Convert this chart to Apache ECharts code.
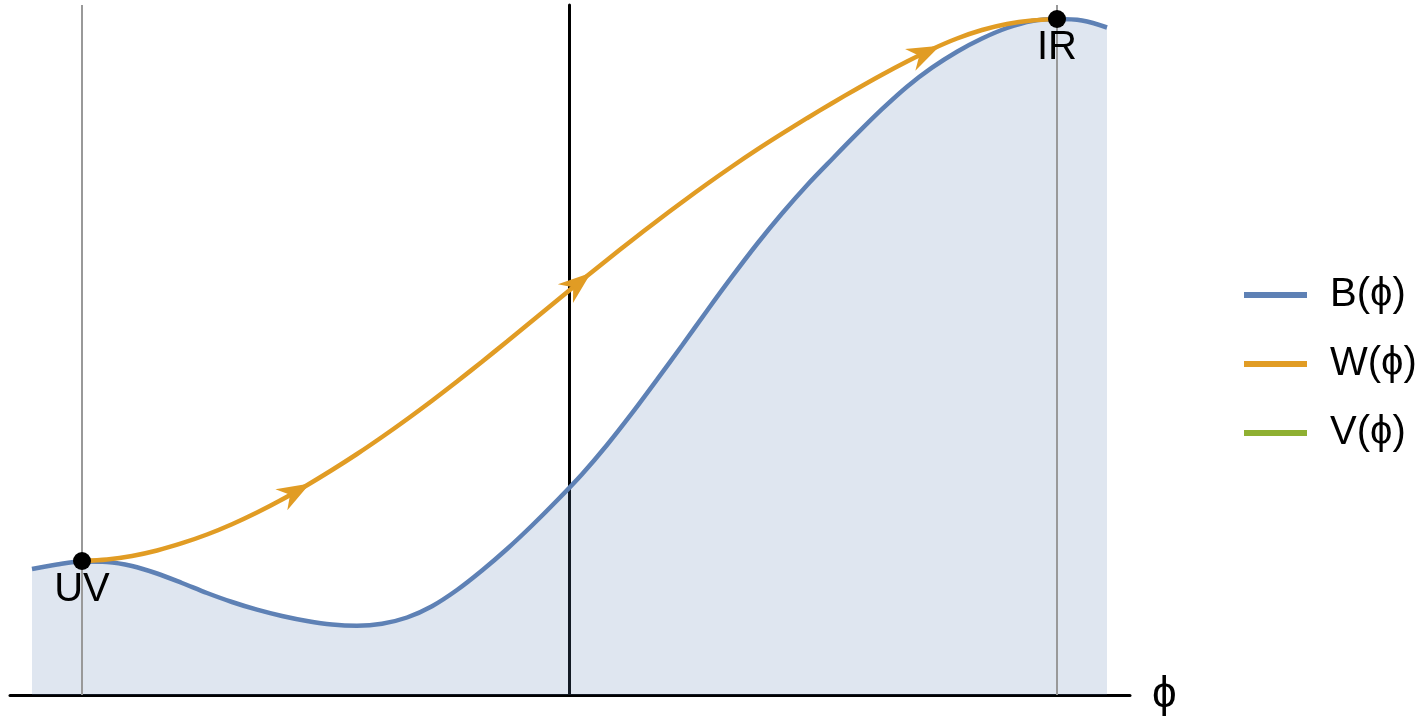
<!DOCTYPE html>
<html>
<head>
<meta charset="utf-8">
<title>B, W and V potentials</title>
<script src="https://cdn.jsdelivr.net/npm/echarts@6/dist/echarts.min.js"></script>
<style>
  html, body { margin: 0; padding: 0; background: #ffffff; }
  #chart { width: 1422px; height: 727px; }
</style>
</head>
<body>
<div id="chart"></div>
<script>
// B(phi): sampled along the phi axis
const phiB = [-5.37, -5.12, -4.87, -4.62, -4.37, -4.12, -3.87, -3.62, -3.37, -3.12, -2.87, -2.62, -2.37, -2.12, -1.87, -1.62, -1.37, -1.12, -0.87, -0.62, -0.37, -0.12, 0.13, 0.38, 0.63, 0.88, 1.13, 1.38, 1.63, 1.88, 2.13, 2.38, 2.63, 2.88, 3.13, 3.38, 3.63, 3.88, 4.13, 4.38, 4.63, 4.88, 5.13, 5.38];
const valB = [1.26, 1.305, 1.335, 1.33, 1.29, 1.215, 1.12, 1.02, 0.93, 0.853, 0.79, 0.74, 0.705, 0.693, 0.713, 0.775, 0.888, 1.05, 1.245, 1.46, 1.695, 1.945, 2.208, 2.50, 2.818, 3.153, 3.495, 3.843, 4.183, 4.51, 4.815, 5.098, 5.358, 5.613, 5.858, 6.083, 6.273, 6.433, 6.565, 6.67, 6.74, 6.76, 6.745, 6.675];

// W(phi): the flow from UV to IR
const phiW = [-4.87, -4.62, -4.37, -4.12, -3.87, -3.62, -3.37, -3.12, -2.87, -2.62, -2.37, -2.12, -1.87, -1.62, -1.37, -1.12, -0.87, -0.62, -0.37, -0.12, 0.13, 0.38, 0.63, 0.88, 1.13, 1.38, 1.63, 1.88, 2.13, 2.38, 2.63, 2.88, 3.13, 3.38, 3.63, 3.88, 4.13, 4.38, 4.63, 4.88];
const valW = [1.34, 1.355, 1.39, 1.445, 1.518, 1.605, 1.708, 1.825, 1.955, 2.098, 2.25, 2.41, 2.58, 2.758, 2.943, 3.135, 3.333, 3.535, 3.74, 3.945, 4.15, 4.35, 4.548, 4.74, 4.928, 5.11, 5.285, 5.453, 5.613, 5.768, 5.918, 6.063, 6.203, 6.335, 6.458, 6.565, 6.65, 6.71, 6.745, 6.76];

// Fixed points of the flow
const fixedPoints = [
  { name: 'UV', phi: -4.87, value: 1.34 },
  { name: 'IR', phi: 4.88, value: 6.76 }
];

// Where the flow arrowheads sit along W (tip positions)
const arrowPhi = [-2.59, 0.22, 3.71];

const legendNames = ['B(\u03D5)', 'W(\u03D5)', 'V(\u03D5)'];
const colors = { B: '#5E81B5', W: '#E19C24', V: '#8FB032' };

// Point on the sampled W curve for a given phi
function wAt(phi) {
  for (let i = 0; i < phiW.length - 1; i++) {
    if (phi >= phiW[i] && phi <= phiW[i + 1]) {
      const t = (phi - phiW[i]) / (phiW[i + 1] - phiW[i]);
      return valW[i] + t * (valW[i + 1] - valW[i]);
    }
  }
  return valW[valW.length - 1];
}

const arrowData = arrowPhi.map(p => [p, wAt(p), p - 0.3, wAt(p - 0.3)]);

const font = '"Liberation Sans", Arial, sans-serif';

const chart = echarts.init(document.getElementById('chart'));
chart.setOption({
  animation: false,
  backgroundColor: '#ffffff',
  grid: { left: 10, right: 292, top: 5, bottom: 32, containLabel: false },
  xAxis: {
    type: 'value',
    min: -5.59,
    max: 5.61,
    name: '\u03D5',
    nameLocation: 'end',
    nameGap: 22,
    nameTextStyle: { fontSize: 44, color: '#000', fontFamily: font, padding: [10, 0, 0, 0] },
    axisLine: { show: true, onZero: true, lineStyle: { color: '#000', width: 3 } },
    axisTick: { show: false },
    axisLabel: { show: false },
    splitLine: { show: false }
  },
  yAxis: {
    type: 'value',
    min: 0,
    max: 6.9,
    axisLine: { show: true, onZero: true, lineStyle: { color: '#000', width: 3 } },
    axisTick: { show: false },
    axisLabel: { show: false },
    splitLine: { show: false }
  },
  legend: {
    data: legendNames,
    orient: 'vertical',
    left: 1239,
    top: 270,
    icon: 'rect',
    itemWidth: 63,
    itemHeight: 6,
    itemGap: 29,
    textStyle: { fontSize: 40, color: '#000', fontFamily: font, lineHeight: 40, padding: [0, 0, 0, 18] }
  },
  series: [
    {
      name: legendNames[0],
      type: 'line',
      data: phiB.map((p, i) => [p, valB[i]]),
      smooth: 0.3,
      symbol: 'none',
      color: colors.B,
      lineStyle: { color: colors.B, width: 4.5 },
      itemStyle: { color: colors.B },
      areaStyle: { color: colors.B, opacity: 0.2, origin: 'start' },
      z: 2,
      markLine: {
        silent: true,
        symbol: ['none', 'none'],
        label: { show: false },
        lineStyle: { color: '#999999', width: 2, type: 'solid' },
        data: fixedPoints.map(f => ({ xAxis: f.phi }))
      }
    },
    {
      name: legendNames[1],
      type: 'line',
      data: phiW.map((p, i) => [p, valW[i]]),
      smooth: 0.3,
      symbol: 'none',
      color: colors.W,
      lineStyle: { color: colors.W, width: 4.5 },
      itemStyle: { color: colors.W },
      z: 3
    },
    {
      name: legendNames[2],
      type: 'line',
      data: [],
      symbol: 'none',
      color: colors.V,
      lineStyle: { color: colors.V, width: 4.5 },
      itemStyle: { color: colors.V }
    },
    {
      // Flow direction arrowheads on W
      type: 'custom',
      z: 4,
      data: arrowData,
      renderItem: function (params, api) {
        const p = api.coord([api.value(0), api.value(1)]);
        const q = api.coord([api.value(2), api.value(3)]);
        const a = Math.atan2(p[1] - q[1], p[0] - q[0]);
        const c = Math.cos(a), s = Math.sin(a);
        const pt = (dx, dy) => [p[0] + dx * c - dy * s, p[1] + dx * s + dy * c];
        return {
          type: 'polygon',
          shape: { points: [pt(0, 0), pt(-33, -12), pt(-23, 0), pt(-33, 12)] },
          style: { fill: colors.W }
        };
      }
    },
    {
      type: 'scatter',
      z: 5,
      symbolSize: 18,
      itemStyle: { color: '#000', opacity: 1 },
      data: fixedPoints.map(f => ({ name: f.name, value: [f.phi, f.value] })),
      label: {
        show: true,
        position: 'bottom',
        distance: 0,
        formatter: '{b}',
        fontSize: 40,
        color: '#000',
        opacity: 1,
        fontFamily: font
      }
    }
  ]
});
</script>
</body>
</html>
